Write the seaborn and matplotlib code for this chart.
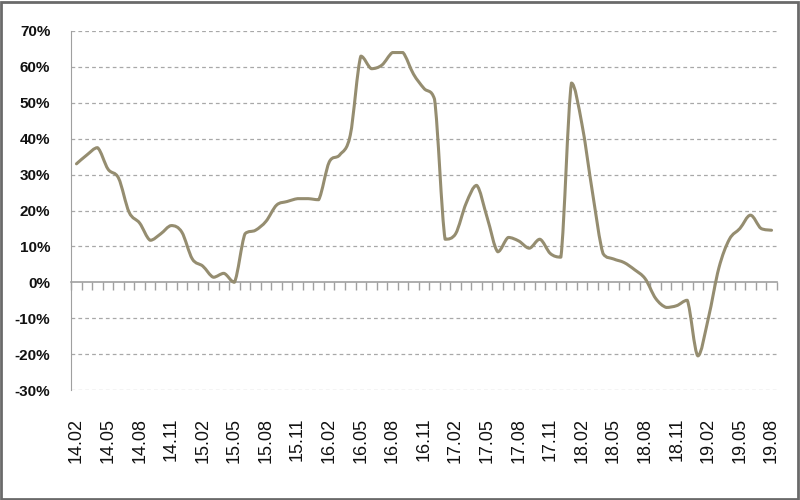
import numpy as np
import pandas as pd
import matplotlib
matplotlib.use("Agg")
import matplotlib.pyplot as plt
import seaborn as sns
from matplotlib.ticker import FixedLocator
from matplotlib.patches import Rectangle, PathPatch
from matplotlib.path import Path

# monthly yoy change (%), 14.02 .. 19.08
yoy = [33, 35.5, 37.5, 31.5, 29, 19.5, 16.5, 11.7, 13.5, 15.8, 14, 6.5,
       4.5, 1.4, 2.5, 0, 13.5, 14.5, 17, 21.5, 22.5, 23.3, 23.3, 23,
       33.5, 35.5, 41, 63, 59.5, 60.5, 64, 64, 58, 54, 51, 12,
       13.5, 22, 27, 18, 8.5, 12.5, 11.5, 9.5, 12, 8, 7, 55.5,
       44, 25, 8, 6.5, 5.5, 3.5, 1, -4.5, -7, -6.5, -5, -20.5,
       -10, 4, 12, 15, 18.7, 15, 14.5]

tick_labels = ["14.02", "14.05", "14.08", "14.11", "15.02", "15.05", "15.08",
               "15.11", "16.02", "16.05", "16.08", "16.11", "17.02", "17.05",
               "17.08", "17.11", "18.02", "18.05", "18.08", "18.11", "19.02",
               "19.05", "19.08"]

y_ticks = [-30, -20, -10, 0, 10, 20, 30, 40, 50, 60, 70]
y_labels = ["-30%", "-20%", "-10%", "0%", "10%", "20%", "30%", "40%",
            "50%", "60%", "70%"]

LINE_COLOR = "#958D70"
AXIS_COLOR = "#A0A0A0"

df = pd.DataFrame({"idx": np.arange(len(yoy)), "yoy": yoy})

sns.set_style("white")
plt.rcParams["font.family"] = ["Liberation Sans", "DejaVu Sans"]

fig, ax = plt.subplots(figsize=(8, 5), dpi=100)
fig.subplots_adjust(left=0.089, right=0.971, top=0.938, bottom=0.22)

# dashed horizontal grid (except zero line, which is the category axis)
for v in y_ticks:
    if v != 0:
        ax.axhline(v, color="#A8A8A8", lw=0.9, ls=(0, (3, 2.5)), zorder=0)

sns.lineplot(data=df, x="idx", y="yoy", color=LINE_COLOR, lw=2.2, ax=ax, zorder=3)

# smoothed line: redraw the seaborn line as a bezier path through the same points,
# control points kept inside each segment's range so the curve does not overshoot
line = ax.lines[-1]
pts = line.get_xydata()
verts = [pts[0]]
codes = [Path.MOVETO]
for i in range(len(pts) - 1):
    p0 = pts[i - 1] if i > 0 else pts[i]
    p1, p2 = pts[i], pts[i + 1]
    p3 = pts[i + 2] if i + 2 < len(pts) else pts[i + 1]
    c1 = p1 + (p2 - p0) / 6
    c2 = p2 - (p3 - p1) / 6
    lo, hi = min(p1[1], p2[1]), max(p1[1], p2[1])
    c1[1] = np.clip(c1[1], lo, hi)
    c2[1] = np.clip(c2[1], lo, hi)
    verts += [c1, c2, p2]
    codes += [Path.CURVE4] * 3
ax.add_patch(PathPatch(Path(verts, codes), fill=False, edgecolor=LINE_COLOR,
                       lw=2.2, zorder=3, capstyle="round", joinstyle="round"))
line.set_visible(False)

ax.set_xlim(-0.5, len(yoy) - 0.5)
ax.set_ylim(-30, 70)
ax.set_xlabel("")
ax.set_ylabel("")

# y axis
ax.set_yticks(y_ticks)
ax.set_yticklabels(y_labels, fontsize=11, fontweight="bold", color="#111111")
ax.tick_params(axis="y", direction="out", length=5, color=AXIS_COLOR, width=1, pad=10)

# category axis drawn at y=0, labels kept at the bottom
ax.spines["right"].set_visible(False)
ax.spines["bottom"].set_visible(False)
ax.spines["left"].set_color(AXIS_COLOR)
ax.spines["top"].set_color(AXIS_COLOR)
ax.spines["top"].set_linewidth(1.2)
ax.spines["top"].set_position(("data", 0))

ax.xaxis.set_major_locator(FixedLocator(np.arange(0, len(yoy), 3)))
ax.xaxis.set_minor_locator(FixedLocator(np.arange(-0.5, len(yoy), 1)))
ax.set_xticklabels(tick_labels, rotation=90, fontsize=13, color="#111111")
ax.tick_params(axis="x", which="major", length=0, bottom=False, top=False,
               labelbottom=True, pad=20)
ax.tick_params(axis="x", which="minor", top=True, bottom=False, direction="in",
               length=6, color=AXIS_COLOR, width=1)

# outer chart border
fig.patches.append(Rectangle((0.001, 0.002), 0.997, 0.995, transform=fig.transFigure,
                             fill=False, edgecolor="#6A6A6A", lw=2))

fig.savefig("out.png", dpi=100)
